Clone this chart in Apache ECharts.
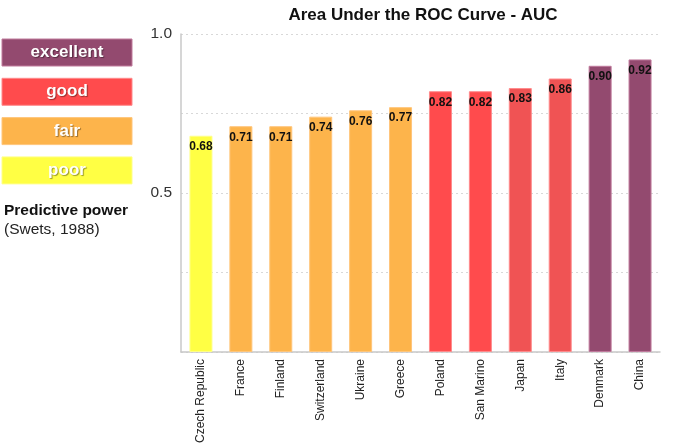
<!DOCTYPE html>
<html>
<head>
<meta charset="utf-8">
<script src="https://cdn.jsdelivr.net/npm/echarts@6/dist/echarts.min.js"></script>
<style>html,body{margin:0;padding:0;background:#fff}#c{width:675px;height:446px}</style>
</head>
<body>
<div id="c"></div>
<script>
const categories = ["Czech Republic","France","Finland","Switzerland","Ukraine","Greece","Poland","San Marino","Japan","Italy","Denmark","China"];
const aucValues = [0.68,0.71,0.71,0.74,0.76,0.77,0.82,0.82,0.83,0.86,0.90,0.92];
const powerClass = ["poor","fair","fair","fair","fair","fair","good","good","good2","good2","excellent","excellent"];
const legendLabels = ["excellent","good","fair","poor"];
const yTickLabels = ["0.5","1.0"];

const fills = {poor:"#FFFF44", fair:"#FDB44B", good:"#FF4B4D", good2:"#F05354", excellent:"#934A6F"};
const borders = {poor:"#FFFF88", fair:"#FFC57A", good:"#FF8A8C", good2:"#FF8A8C", excellent:"#C07A9C"};

const chart = echarts.init(document.getElementById('c'), null, {renderer:'canvas'});
const font = 'Arial, "Liberation Sans", sans-serif';

const legendGraphics = [];
legendLabels.forEach((name, i) => {
  const top = 39 + i * 39.3;
  legendGraphics.push({
    type:'rect', shape:{x:2, y:top, width:130, height:27},
    style:{fill:fills[name], stroke:borders[name], lineWidth:1}
  });
  legendGraphics.push({
    type:'text', x:67, y:top + 13.5,
    style:{text:name, fill:'#fff', font:'bold 17px ' + font, textAlign:'center', textVerticalAlign:'middle',
      textShadowColor:'rgba(0,0,0,0.4)', textShadowOffsetX:1, textShadowOffsetY:1, textShadowBlur:1}
  });
});
legendGraphics.push({type:'text', x:4, y:211, style:{text:'Predictive power', fill:'#111', font:'bold 15.5px ' + font, textVerticalAlign:'middle'}});
legendGraphics.push({type:'text', x:4, y:230, style:{text:'(Swets, 1988)', fill:'#222', font:'15.5px ' + font, textVerticalAlign:'middle'}});

chart.setOption({
  animation:false,
  backgroundColor:'#fff',
  title:{text:'Area Under the ROC Curve - AUC', left:418, top:2, textAlign:'center',
    textStyle:{fontFamily:font, fontSize:17, fontWeight:'bold', color:'#111'}},
  grid:{left:181, right:15, top:34, bottom:93, containLabel:false},
  xAxis:{type:'category', data:categories,
    axisLine:{lineStyle:{color:'#c8c8c8', width:1.5}},
    axisTick:{show:false},
    axisLabel:{rotate:90, fontFamily:font, fontSize:12, color:'#222', margin:7}},
  yAxis:{type:'value', min:0, max:1, interval:0.25,
    axisLine:{show:true, lineStyle:{color:'#c8c8c8', width:1.5}},
    axisTick:{show:false},
    splitLine:{lineStyle:{color:'#d8d8d8', type:[2,3]}},
    axisLabel:{fontFamily:font, fontSize:15.5, color:'#333', margin:9,
      formatter:v => { const s = v.toFixed(1); return (yTickLabels.includes(s) && (v === 0.5 || v === 1)) ? s : ''; }}},
  series:[{type:'bar', barWidth:23,
    data:aucValues.map((v,i) => ({value:v, itemStyle:{color:fills[powerClass[i]], borderColor:borders[powerClass[i]], borderWidth:1}})),
    label:{show:true, position:'insideTop', distance:5, fontFamily:font, fontSize:12, fontWeight:'bold', color:'#111',
      formatter:p => p.value.toFixed(2)}}],
  graphic:legendGraphics
});
</script>
</body>
</html>
